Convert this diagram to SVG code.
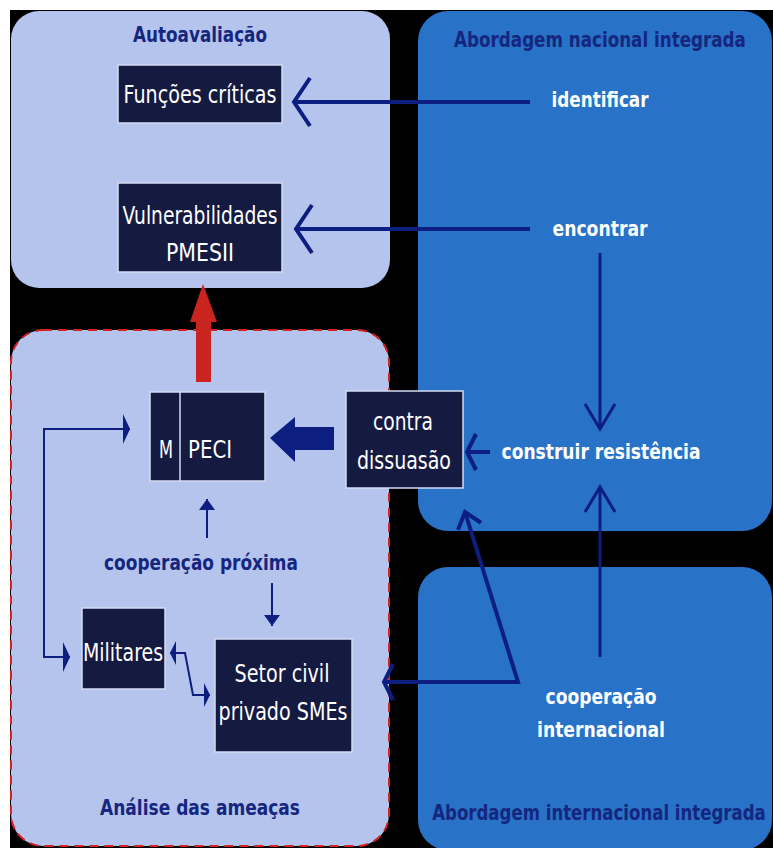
<svg xmlns="http://www.w3.org/2000/svg" width="773" height="848" viewBox="0 0 773 848">
  <style>
    .panel-light { fill: #b4c4ec; }
    .panel-blue { fill: #2872c7; }
    .box { fill: #151a40; stroke: #d4dbf2; stroke-width: 1.5; }
    .t { font-family: "DejaVu Sans", Verdana, sans-serif; text-anchor: middle; }
    .title { font-size: 22px; font-weight: bold; fill: #15267f; }
    .boxtxt { font-size: 24px; fill: #ffffff; }
    .verb { font-size: 22px; font-weight: bold; fill: #ffffff; }
    .navylabel { font-size: 21px; font-weight: bold; fill: #15267f; }
    .conn { fill: none; stroke: #0c1e80; stroke-linejoin: miter; }
  </style>
  <defs>
    <marker id="vBig" markerUnits="userSpaceOnUse" viewBox="-20 -28 24 56" markerWidth="24" markerHeight="56" refX="0" refY="0" orient="auto-start-reverse">
      <path d="M-16,-24 L0,0 L-16,24" fill="none" stroke="#0c1e80" stroke-width="4"/>
    </marker>
    <marker id="vTall" markerUnits="userSpaceOnUse" viewBox="-28 -18 32 36" markerWidth="32" markerHeight="36" refX="0" refY="0" orient="auto-start-reverse">
      <path d="M-25,-15 L0,0 L-25,15" fill="none" stroke="#0c1e80" stroke-width="3"/>
    </marker>
    <marker id="vShort" markerUnits="userSpaceOnUse" viewBox="-12 -22 16 44" markerWidth="16" markerHeight="44" refX="0" refY="0" orient="auto-start-reverse">
      <path d="M-9,-18 L0,0 L-9,18" fill="none" stroke="#0c1e80" stroke-width="4"/>
    </marker>
    <marker id="vDiag" markerUnits="userSpaceOnUse" viewBox="-18 -16 22 32" markerWidth="22" markerHeight="32" refX="0" refY="0" orient="auto-start-reverse">
      <path d="M-15,-12 L0,0 L-15,12" fill="none" stroke="#0c1e80" stroke-width="4"/>
    </marker>
    <marker id="narrow" markerUnits="userSpaceOnUse" viewBox="-8 -16 9 32" markerWidth="9" markerHeight="32" refX="0" refY="0" orient="auto-start-reverse">
      <path d="M-7,-15 L0,0 L-7,15 Z" fill="#0c1e80"/>
    </marker>
    <marker id="narrowSm" markerUnits="userSpaceOnUse" viewBox="-7 -13 8 26" markerWidth="8" markerHeight="26" refX="0" refY="0" orient="auto-start-reverse">
      <path d="M-6,-12 L0,0 L-6,12 Z" fill="#0c1e80"/>
    </marker>
    <marker id="tri" markerUnits="userSpaceOnUse" viewBox="-11 -9 12 18" markerWidth="12" markerHeight="18" refX="0" refY="0" orient="auto-start-reverse">
      <path d="M-11,-8 L0,0 L-11,8 Z" fill="#0c1e80"/>
    </marker>
  </defs>

  <!-- background -->
  <rect x="0" y="0" width="773" height="848" fill="#ffffff"/>
  <rect x="10" y="10" width="763" height="838" fill="#000000"/>

  <!-- panels -->
  <g id="panel-autoavaliacao">
    <rect class="panel-light" x="11" y="11" width="379" height="277" rx="28"/>
    <text class="t title" x="200" y="42" textLength="134" lengthAdjust="spacingAndGlyphs">Autoavaliação</text>
  </g>
  <g id="panel-nacional">
    <rect class="panel-blue" x="418" y="11" width="354" height="520" rx="30"/>
    <text class="t title" transform="translate(600,47) scale(0.762,1)" x="0" y="0">Abordagem nacional integrada</text>
  </g>
  <g id="panel-internacional">
    <rect class="panel-blue" x="418" y="567" width="354" height="283" rx="30"/>
    <text class="t title" transform="translate(599,820) scale(0.754,1)" x="0" y="0">Abordagem internacional integrada</text>
  </g>
  <g id="panel-ameacas">
    <rect class="panel-light" x="11" y="330" width="378" height="516" rx="32" stroke="#d42222" stroke-width="2" stroke-dasharray="9 6"/>
    <text class="t title" x="200" y="815" textLength="200" lengthAdjust="spacingAndGlyphs">Análise das ameaças</text>
  </g>

  <!-- nodes -->
  <g id="funcoes-criticas">
    <rect class="box" x="118" y="65" width="164" height="58"/>
    <text class="t boxtxt" x="200" y="103" textLength="153" lengthAdjust="spacingAndGlyphs">Funções críticas</text>
  </g>
  <g id="vulnerabilidades">
    <rect class="box" x="118" y="183" width="164" height="89"/>
    <text class="t boxtxt" x="200" y="224" textLength="155" lengthAdjust="spacingAndGlyphs">Vulnerabilidades</text>
    <text class="t boxtxt" x="200" y="261" textLength="68" lengthAdjust="spacingAndGlyphs">PMESII</text>
  </g>
  <g id="m-peci">
    <rect class="box" x="150" y="392" width="115" height="89"/>
    <line x1="180" y1="392" x2="180" y2="481" stroke="#d4dbf2" stroke-width="1.5"/>
    <text class="t boxtxt" x="166" y="458" textLength="14" lengthAdjust="spacingAndGlyphs">M</text>
    <text class="t boxtxt" x="210" y="458" textLength="44" lengthAdjust="spacingAndGlyphs">PECI</text>
  </g>
  <g id="contra-dissuasao">
    <rect class="box" x="346" y="391" width="117" height="97"/>
    <text class="t boxtxt" x="403" y="430" textLength="60" lengthAdjust="spacingAndGlyphs">contra</text>
    <text class="t boxtxt" x="404" y="469" textLength="94" lengthAdjust="spacingAndGlyphs">dissuasão</text>
  </g>
  <g id="militares">
    <rect class="box" x="82" y="608" width="83" height="81"/>
    <text class="t boxtxt" x="123" y="661" textLength="80" lengthAdjust="spacingAndGlyphs">Militares</text>
  </g>
  <g id="setor-civil">
    <rect class="box" x="215" y="639" width="137" height="113"/>
    <text class="t boxtxt" x="282" y="682" textLength="95" lengthAdjust="spacingAndGlyphs">Setor civil</text>
    <text class="t boxtxt" x="283" y="720" textLength="129" lengthAdjust="spacingAndGlyphs">privado SMEs</text>
  </g>
  <g id="identificar">
    <text class="t verb" x="600" y="107" textLength="97" lengthAdjust="spacingAndGlyphs">identificar</text>
  </g>
  <g id="encontrar">
    <text class="t verb" x="600" y="236" textLength="95" lengthAdjust="spacingAndGlyphs">encontrar</text>
  </g>
  <g id="construir-resistencia">
    <text class="t verb" x="601" y="459" textLength="199" lengthAdjust="spacingAndGlyphs">construir resistência</text>
  </g>
  <g id="cooperacao-internacional">
    <text class="t verb" x="601" y="704" textLength="111" lengthAdjust="spacingAndGlyphs">cooperação</text>
    <text class="t verb" x="601" y="737" textLength="128" lengthAdjust="spacingAndGlyphs">internacional</text>
  </g>
  <g id="cooperacao-proxima">
    <text class="t navylabel" x="201" y="570" textLength="194" lengthAdjust="spacingAndGlyphs">cooperação próxima</text>
  </g>

  <!-- connectors -->
  <g id="connectors">
    <path class="conn" d="M530,102 H294" stroke-width="4" marker-end="url(#vBig)"/>
    <path class="conn" d="M530,229 H296" stroke-width="4" marker-end="url(#vBig)"/>
    <path class="conn" d="M600,253 V429" stroke-width="3" marker-end="url(#vTall)"/>
    <path class="conn" d="M600,657 V487" stroke-width="3" marker-end="url(#vTall)"/>
    <path class="conn" d="M490,452 H467" stroke-width="4" marker-end="url(#vShort)"/>
    <path class="conn" d="M465,512 L518,682 H384" stroke-width="4" marker-start="url(#vDiag)" marker-end="url(#vShort)"/>
    <path class="conn" d="M130,429 H44 V657 H70" stroke-width="2" marker-start="url(#narrow)" marker-end="url(#narrow)"/>
    <path class="conn" d="M170,653 H185 L193,695 H210" stroke-width="2" marker-start="url(#narrowSm)" marker-end="url(#narrowSm)"/>
    <path class="conn" d="M207,538 V499" stroke-width="2" marker-end="url(#tri)"/>
    <path class="conn" d="M272,583 V626" stroke-width="2" marker-end="url(#tri)"/>
    <polygon points="203,284 217,322 211,322 211,382 196,382 196,322 190,322" fill="#c92420"/>
    <polygon points="270,438 295,417 295,427 334,427 334,450 295,450 295,462" fill="#0c1e80"/>
  </g>
</svg>
